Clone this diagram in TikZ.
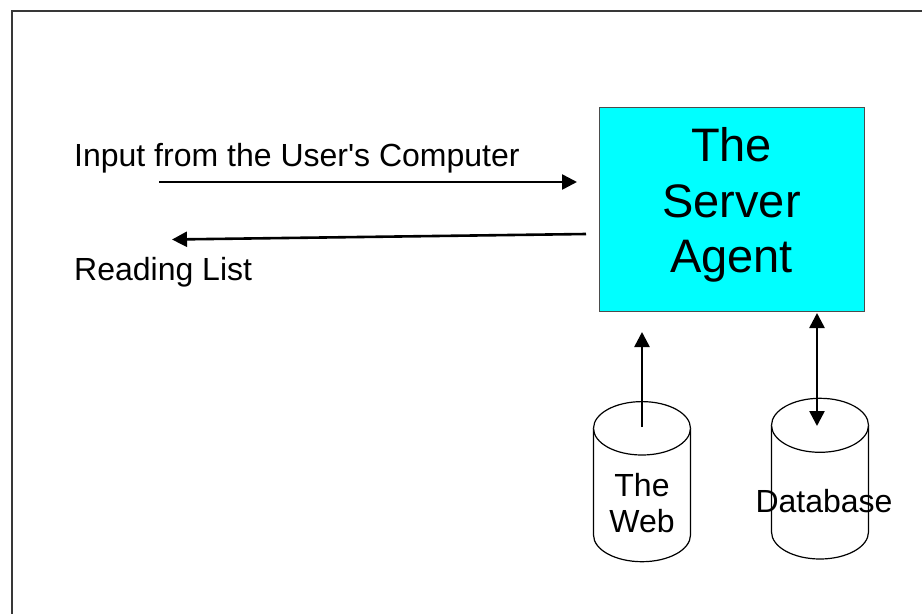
\documentclass[tikz,border=0pt]{standalone}
\usepackage{fontspec}
\setmainfont{Liberation Sans}[Ligatures=TeXOff]
\usetikzlibrary{arrows.meta}
\definecolor{agentcyan}{RGB}{0,255,255}
\begin{document}
\begin{tikzpicture}[x=1pt,y=-1pt,
  conn/.style={line width=2.6pt, -{Triangle[length=15pt,width=15pt]}},
  biconn/.style={line width=2.6pt, {Triangle[length=15pt,width=15pt]}-{Triangle[length=15pt,width=15pt]}},
  frameline/.style={line width=2pt, black!78},
  agent/.style={draw=black!70, line width=1pt, fill=agentcyan, minimum width=265pt, minimum height=204pt, inner sep=0pt},
  bigtext/.style={font=\fontsize{47}{55.3}\selectfont, align=center, inner sep=0pt},
  label/.style={font=\fontsize{32}{36}\selectfont, inner sep=0pt},
  drum/.style={draw=black, line width=1.2pt, fill=white}
]
\useasboundingbox (0,0) rectangle (922,614);

% page frame
\draw[frameline] (922,11) -- (12,11) -- (12,614);

% server agent
\node[agent] (server) at (731.5,209) {};
\node[bigtext] (servertext) at (731.5,205) {The\\Server\\Agent};

% user side labels
\node[label, anchor=base west] (input) at (74,166) {Input from the User's Computer};
\node[label, anchor=base west] (reading) at (74,280.8) {Reading List};

% cylinders: the web and the database
\draw[drum] (593.5,428.3) -- (593.5,535) arc[start angle=180, end angle=0, x radius=48.5, y radius=26.7]
  -- (690.5,428.3) arc[start angle=0, end angle=-180, x radius=48.5, y radius=26.7] -- cycle;
\draw[drum] (593.5,428.3) arc[start angle=180, end angle=0, x radius=48.5, y radius=26.7];

\draw[drum] (771.5,425.3) -- (771.5,532) arc[start angle=180, end angle=0, x radius=48.5, y radius=27]
  -- (868.5,425.3) arc[start angle=0, end angle=-180, x radius=48.5, y radius=27] -- cycle;
\draw[drum] (771.5,425.3) arc[start angle=180, end angle=0, x radius=48.5, y radius=27];

\node[label, align=center] (web) at (642,503) {The\\Web};
\node[label, anchor=base] (db) at (824,512.7) {Database};

% connector end points
\coordinate (inStart) at (159,182);
\coordinate (inEnd) at (577,182);
\coordinate (outStart) at (586,234);
\coordinate (outEnd) at (172,239.5);
\coordinate (webTop) at (642,427);
\coordinate (webEnd) at (642,332);
\coordinate (dbTop) at (817,426);
\coordinate (dbEnd) at (817,313);

\draw[conn] (inStart) -- (inEnd);
\draw[conn] (outStart) -- (outEnd);
\draw[conn] (webTop) -- (webEnd);
\draw[biconn] (dbTop) -- (dbEnd);
\end{tikzpicture}
\end{document}
